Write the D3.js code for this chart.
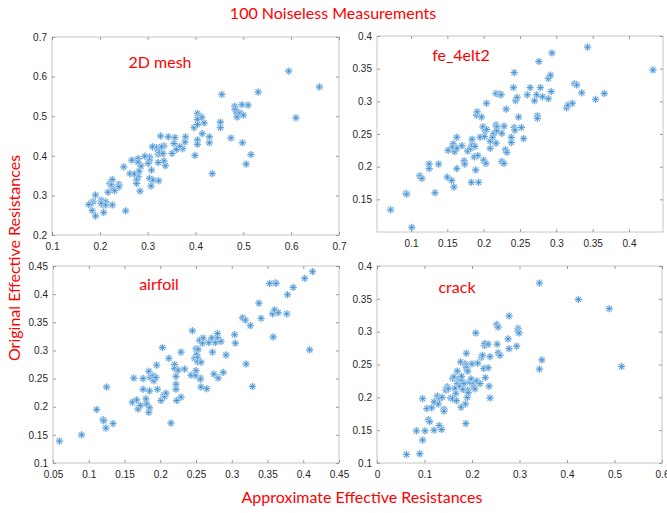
<!DOCTYPE html>
<meta charset="utf-8">
<title>100 Noiseless Measurements</title>
<style>
body {
  margin: 0;
  background-color: white;
}
.red {
  font-family: Lato, 'Open Sans', sans-serif;
  fill: #ff0000;
  font-size: 16px;
}
.frame {
  fill: none;
  stroke: #c6c6c6;
  stroke-width: 1;
}
.axis line {
  stroke: #9a9a9a;
}
.axis text {
  font-family: 'Liberation Sans', Arial, sans-serif;
  font-size: 10px;
  fill: #262626;
}
.halo {
  fill: none;
  stroke: #c9e0f4;
  stroke-width: 1.8;
}
.star {
  fill: none;
  stroke: #3386cd;
  stroke-width: 0.7;
}
</style>
<body>
<script src="https://d3js.org/d3.v7.min.js"></script>
<script>
// values: [approximate, original]
var meshPts = [
  [0.595,0.614],[0.659,0.574],[0.610,0.496],[0.455,0.555],[0.531,0.561],
  [0.482,0.525],[0.483,0.517],[0.486,0.508],[0.493,0.508],[0.487,0.498],[0.497,0.529],[0.510,0.528],[0.500,0.503],
  [0.452,0.485],[0.452,0.471],
  [0.404,0.507],[0.409,0.500],[0.413,0.497],[0.418,0.483],[0.404,0.492],
  [0.397,0.471],[0.404,0.479],[0.414,0.456],
  [0.474,0.445],[0.498,0.433],[0.516,0.403],[0.506,0.379],
  [0.429,0.448],[0.429,0.433],[0.435,0.355],
  [0.404,0.440],[0.404,0.429],[0.399,0.401],
  [0.379,0.448],[0.378,0.435],[0.373,0.418],[0.367,0.423],[0.355,0.431],[0.360,0.416],[0.351,0.406],[0.337,0.375],
  [0.357,0.446],[0.343,0.448],[0.327,0.450],[0.334,0.425],[0.329,0.423],[0.318,0.421],[0.310,0.423],[0.322,0.413],
  [0.322,0.404],[0.325,0.408],[0.332,0.406],[0.334,0.387],[0.322,0.383],
  [0.304,0.397],[0.304,0.389],[0.301,0.381],[0.294,0.399],[0.308,0.364],[0.304,0.343],[0.311,0.339],[0.323,0.337],[0.307,0.324],
  [0.280,0.393],[0.280,0.384],[0.286,0.374],[0.282,0.361],[0.280,0.347],[0.277,0.339],[0.277,0.330],[0.284,0.311],
  [0.267,0.389],[0.263,0.355],[0.272,0.354],[0.250,0.372],
  [0.240,0.328],[0.240,0.322],[0.226,0.340],[0.221,0.330],[0.224,0.326],[0.228,0.316],[0.231,0.312],[0.217,0.308],[0.226,0.276],[0.254,0.261],
  [0.191,0.301],[0.203,0.288],[0.207,0.282],[0.212,0.284],[0.207,0.276],[0.212,0.276],[0.203,0.280],[0.208,0.257],
  [0.186,0.284],[0.182,0.280],[0.177,0.277],[0.184,0.262],[0.191,0.248]
];

var fePts = [
  [0.072,0.134],[0.101,0.107],[0.093,0.159],[0.094,0.158],[0.112,0.186],[0.115,0.182],[0.125,0.204],[0.125,0.197],
  [0.138,0.204],[0.133,0.160],[0.151,0.225],[0.158,0.235],[0.157,0.230],[0.163,0.245],[0.160,0.223],[0.163,0.228],
  [0.150,0.184],[0.156,0.179],[0.159,0.169],[0.163,0.197],[0.170,0.232],[0.173,0.209],[0.174,0.204],
  [0.178,0.224],[0.182,0.228],[0.184,0.233],[0.184,0.242],[0.187,0.215],[0.188,0.231],
  [0.183,0.176],[0.193,0.176],[0.189,0.195],[0.192,0.217],[0.190,0.279],[0.191,0.284],[0.195,0.245],[0.197,0.276],
  [0.199,0.261],[0.201,0.246],[0.202,0.255],[0.204,0.257],[0.200,0.210],[0.203,0.205],[0.204,0.297],
  [0.209,0.239],[0.209,0.228],[0.212,0.245],[0.214,0.251],[0.217,0.312],[0.222,0.311],[0.224,0.310],
  [0.217,0.264],[0.218,0.261],[0.217,0.236],[0.218,0.255],[0.225,0.251],[0.228,0.262],[0.231,0.288],
  [0.225,0.208],[0.228,0.205],[0.230,0.226],[0.232,0.222],[0.238,0.245],[0.238,0.237],[0.241,0.321],[0.242,0.344],
  [0.242,0.260],[0.243,0.256],[0.244,0.301],[0.246,0.306],[0.248,0.276],[0.252,0.260],[0.255,0.243],
  [0.260,0.310],[0.264,0.321],[0.270,0.301],[0.273,0.310],[0.274,0.278],[0.274,0.274],[0.276,0.361],[0.278,0.321],[0.281,0.307],
  [0.289,0.304],[0.289,0.335],[0.292,0.340],[0.293,0.315],[0.294,0.374],[0.314,0.290],[0.316,0.294],[0.322,0.297],
  [0.325,0.327],[0.328,0.325],[0.335,0.313],[0.343,0.383],[0.354,0.303],[0.366,0.312],[0.433,0.348]
];

var airfoilPts = [
  [0.059,0.139],[0.090,0.150],[0.111,0.195],[0.120,0.177],[0.121,0.175],[0.124,0.162],[0.125,0.235],[0.134,0.170],
  [0.161,0.208],[0.163,0.251],[0.167,0.212],[0.169,0.196],[0.172,0.202],[0.176,0.250],[0.176,0.231],[0.180,0.214],[0.181,0.205],
  [0.184,0.263],[0.186,0.252],[0.185,0.228],[0.185,0.198],[0.184,0.190],[0.190,0.255],[0.191,0.246],[0.194,0.252],
  [0.195,0.274],[0.196,0.231],[0.201,0.211],[0.203,0.305],[0.205,0.221],[0.206,0.218],[0.208,0.224],[0.212,0.286],[0.215,0.171],
  [0.220,0.275],[0.220,0.268],[0.222,0.254],[0.222,0.240],[0.222,0.231],[0.223,0.211],[0.225,0.265],[0.229,0.297],[0.229,0.217],
  [0.234,0.267],[0.243,0.256],[0.245,0.335],[0.248,0.286],[0.249,0.256],[0.250,0.303],[0.251,0.293],[0.252,0.287],[0.252,0.280],
  [0.253,0.302],[0.250,0.264],[0.255,0.318],[0.256,0.251],[0.256,0.249],[0.257,0.235],[0.257,0.279],[0.259,0.313],[0.260,0.322],
  [0.265,0.232],[0.268,0.314],[0.272,0.322],[0.273,0.297],[0.275,0.258],[0.277,0.314],[0.280,0.323],[0.280,0.330],[0.281,0.251],
  [0.285,0.316],[0.288,0.261],[0.292,0.292],[0.304,0.328],[0.305,0.313],[0.320,0.276],[0.315,0.358],[0.319,0.354],[0.326,0.344],
  [0.329,0.236],[0.338,0.384],[0.341,0.357],[0.358,0.324],[0.353,0.419],[0.361,0.420],[0.362,0.419],[0.357,0.365],[0.360,0.372],
  [0.365,0.367],[0.377,0.365],[0.378,0.399],[0.386,0.412],[0.402,0.428],[0.409,0.301],[0.413,0.440]
];

var crackPts = [
  [0.062,0.113],[0.090,0.114],[0.096,0.135],[0.083,0.149],[0.101,0.149],[0.096,0.198],[0.108,0.166],[0.111,0.163],
  [0.105,0.183],[0.115,0.184],[0.120,0.150],[0.120,0.193],[0.127,0.202],[0.129,0.190],[0.131,0.157],[0.136,0.151],
  [0.132,0.198],[0.137,0.200],[0.141,0.182],[0.141,0.179],[0.145,0.211],[0.148,0.216],[0.150,0.213],[0.155,0.199],[0.159,0.198],
  [0.159,0.229],[0.162,0.231],[0.164,0.214],[0.166,0.206],[0.167,0.195],[0.169,0.240],[0.169,0.221],[0.173,0.228],[0.174,0.217],
  [0.176,0.254],[0.177,0.185],[0.178,0.226],[0.178,0.232],[0.181,0.212],[0.183,0.221],[0.185,0.251],[0.187,0.249],[0.187,0.160],
  [0.186,0.190],[0.188,0.267],[0.188,0.245],[0.191,0.211],[0.190,0.200],[0.191,0.240],[0.192,0.207],[0.195,0.223],[0.198,0.228],
  [0.203,0.221],[0.200,0.251],[0.204,0.216],[0.206,0.213],[0.208,0.298],[0.210,0.225],[0.212,0.252],[0.217,0.221],[0.220,0.261],
  [0.222,0.264],[0.225,0.244],[0.226,0.279],[0.227,0.282],[0.228,0.230],[0.234,0.281],[0.234,0.245],[0.236,0.217],[0.238,0.199],
  [0.238,0.262],[0.252,0.311],[0.255,0.307],[0.253,0.281],[0.255,0.268],[0.259,0.264],[0.276,0.289],[0.278,0.324],[0.278,0.274],
  [0.294,0.278],[0.297,0.305],[0.297,0.301],[0.299,0.298],[0.342,0.374],[0.342,0.243],[0.347,0.257],[0.424,0.349],[0.489,0.335],[0.515,0.247]
];

// tick values
var meshXTicks = [0.1, 0.2, 0.3, 0.4, 0.5, 0.6, 0.7];
var meshYTicks = [0.2, 0.3, 0.4, 0.5, 0.6, 0.7];
var feXTicks = [0.1, 0.15, 0.2, 0.25, 0.3, 0.35, 0.4];
var feYTicks = [0.15, 0.2, 0.25, 0.3, 0.35, 0.4];
var airfoilXTicks = [0.05, 0.1, 0.15, 0.2, 0.25, 0.3, 0.35, 0.4, 0.45];
var airfoilYTicks = [0.1, 0.15, 0.2, 0.25, 0.3, 0.35, 0.4, 0.45];
var crackXTicks = [0, 0.1, 0.2, 0.3, 0.4, 0.5, 0.6];
var crackYTicks = [0.1, 0.15, 0.2, 0.25, 0.3, 0.35, 0.4];

var width = 667,
    height = 513;

// panel boxes on the page
var panels = [
  {name: "2D mesh", pts: meshPts, xd: [0.1, 0.7], yd: [0.2, 0.7], xt: meshXTicks, yt: meshYTicks,
   left: 52, right: 339, top: 37, bottom: 235, lx: 160, ly: 68},
  {name: "fe_4elt2", pts: fePts, xd: [0.0532, 0.4468], yd: [0.1, 0.4], xt: feXTicks, yt: feYTicks,
   left: 377, right: 663, top: 36, bottom: 232, lx: 461, ly: 61},
  {name: "airfoil", pts: airfoilPts, xd: [0.05, 0.45], yd: [0.1, 0.45], xt: airfoilXTicks, yt: airfoilYTicks,
   left: 53, right: 339, top: 266, bottom: 463, lx: 159, ly: 290},
  {name: "crack", pts: crackPts, xd: [0, 0.6], yd: [0.1, 0.4], xt: crackXTicks, yt: crackYTicks,
   left: 377, right: 662, top: 266, bottom: 463, lx: 457, ly: 293}
];

var svg = d3.select("body").append("svg")
    .attr("width", width)
    .attr("height", height);

var fmt = function(v) { return String(+v.toFixed(2)); };

// asterisk marker
var s = 3.6, a = 2.6;
var starPath = "M" + (-s) + ",0H" + s + "M0," + (-s) + "V" + s +
    "M" + (-a) + "," + (-a) + "L" + a + "," + a + "M" + (-a) + "," + a + "L" + a + "," + (-a);

panels.forEach(function(p) {
  var x = d3.scaleLinear().domain(p.xd).range([p.left, p.right]);
  var y = d3.scaleLinear().domain(p.yd).range([p.bottom, p.top]);
  var g = svg.append("g");

  g.append("rect").attr("class", "frame")
      .attr("x", p.left).attr("y", p.top)
      .attr("width", p.right - p.left).attr("height", p.bottom - p.top);

  // bottom / left axes with labels, top / right with inward ticks only
  g.append("g").attr("class", "axis")
      .attr("transform", "translate(0," + p.bottom + ")")
      .call(d3.axisBottom(x).tickValues(p.xt).tickFormat(fmt).tickSizeInner(-3).tickSizeOuter(0).tickPadding(8));
  g.append("g").attr("class", "axis")
      .attr("transform", "translate(" + p.left + ",0)")
      .call(d3.axisLeft(y).tickValues(p.yt).tickFormat(fmt).tickSizeInner(-3).tickSizeOuter(0).tickPadding(5));
  g.append("g").attr("class", "axis")
      .attr("transform", "translate(0," + p.top + ")")
      .call(d3.axisTop(x).tickValues(p.xt).tickFormat("").tickSizeInner(-3).tickSizeOuter(0));
  g.append("g").attr("class", "axis")
      .attr("transform", "translate(" + p.right + ",0)")
      .call(d3.axisRight(y).tickValues(p.yt).tickFormat("").tickSizeInner(-3).tickSizeOuter(0));
  g.selectAll(".axis .domain").remove();
  g.selectAll(".axis").attr("font-family", null).attr("font-size", null);

  var pts = g.append("g").selectAll("g")
      .data(p.pts)
      .enter().append("g")
      .attr("transform", function(d) { return "translate(" + x(d[0]) + "," + y(d[1]) + ")"; });
  pts.append("path").attr("class", "halo").attr("d", starPath);
  pts.append("path").attr("class", "star").attr("d", starPath);

  g.append("text").attr("class", "red")
      .attr("x", p.lx).attr("y", p.ly)
      .attr("text-anchor", "middle")
      .text(p.name);
});

// figure titles
svg.append("text").attr("class", "red")
    .attr("x", 333).attr("y", 19)
    .attr("text-anchor", "middle")
    .text("100 Noiseless Measurements");

svg.append("text").attr("class", "red")
    .attr("x", 362).attr("y", 503)
    .attr("text-anchor", "middle")
    .text("Approximate Effective Resistances");

svg.append("text").attr("class", "red")
    .attr("transform", "translate(20,258) rotate(-90)")
    .attr("text-anchor", "middle")
    .text("Original Effective Resistances");
</script>
</body>
